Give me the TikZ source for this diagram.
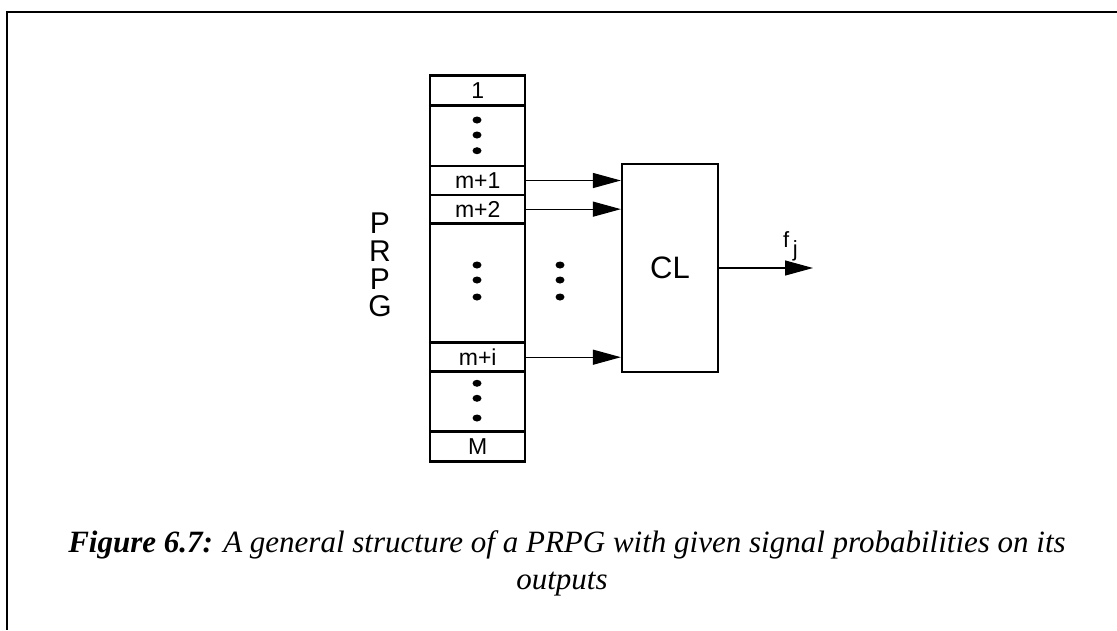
\documentclass[tikz,border=0pt]{standalone}
\usepackage{fontspec}
\setmainfont{Liberation Sans}
\newfontfamily\capfont{Liberation Serif}
\usetikzlibrary{arrows.meta,shapes.geometric}
\tikzset{
  cell/.style={draw, line width=2.5pt, minimum width=95pt, inner sep=0pt, font=\fontsize{23}{23}\selectfont},
  arr/.style={line width=1.2pt, -{Triangle[length=28pt,width=15pt]}},
  dot/.style={fill, ellipse, minimum width=9pt, minimum height=7pt, inner sep=0pt},
  captext/.style={font=\capfont\fontsize{31}{37}\selectfont, inner sep=0pt, anchor=base},
}
\begin{document}
\begin{tikzpicture}[x=1pt,y=-1pt]
\useasboundingbox (0,0) rectangle (1117,630);
% frame
\draw[line width=1.8pt] (1117,12) -- (7,12) -- (7,630);
% register cells
\node[cell, minimum height=29.8pt] (c1) at (477.7,90.6) {1};
\node[cell, minimum height=60.5pt] (d1) at (477.7,135.75) {};
\node[cell, minimum height=29pt] (m1) at (477.7,180.5) {m+1};
\node[cell, minimum height=28.3pt] (m2) at (477.7,209.15) {m+2};
\node[cell, minimum height=119.4pt] (dm) at (477.7,283) {};
\node[cell, minimum height=29pt] (mi) at (477.7,357.2) {m+i};
\node[cell, minimum height=60pt] (d2) at (477.7,401.7) {};
\node[cell, minimum height=30pt] (cM) at (477.7,446.7) {M};
% dots
\foreach \n/\x/\y in {a1/477/120,a2/477/135,a3/477/150.7,
                      b1/477/265,b2/477/280,b3/477/297,
                      c1d/477/383.3,c2d/477/398.3,c3d/477/418,
                      e1/560/265,e2/560/280,e3/560/297}
  \node[dot] (\n) at (\x,\y) {};
% PRPG label
\node[font=\fontsize{30}{27.6}\selectfont, align=center, inner sep=0pt, anchor=north] (prpg) at (380,213) {P\\R\\P\\G};
% CL box
\node[draw, line width=2.2pt, minimum width=96pt, minimum height=208pt, inner sep=0pt, font=\fontsize{31}{31}\selectfont] (cl) at (670,268) {CL};
% arrows
\draw[arr] (m1.east) -- (m1.east -| cl.west);
\draw[arr] (m2.east) -- (m2.east -| cl.west);
\draw[arr] (mi.east) -- (mi.east -| cl.west);
\coordinate (out) at (813,268);
\draw[arr] (cl.east) -- (out);
\node[font=\fontsize{22}{22}\selectfont, inner sep=0pt, anchor=base west] (fj) at (783,247) {f\,\raisebox{-9pt}{j}};
% caption
\node[captext] (cap1) at (567,552)
  {\textbf{\textit{Figure 6.7:}} \textit{A general structure of a PRPG with given signal probabilities on its}};
\node[captext] (cap2) at (562,589) {\textit{outputs}};
\end{tikzpicture}
\end{document}
